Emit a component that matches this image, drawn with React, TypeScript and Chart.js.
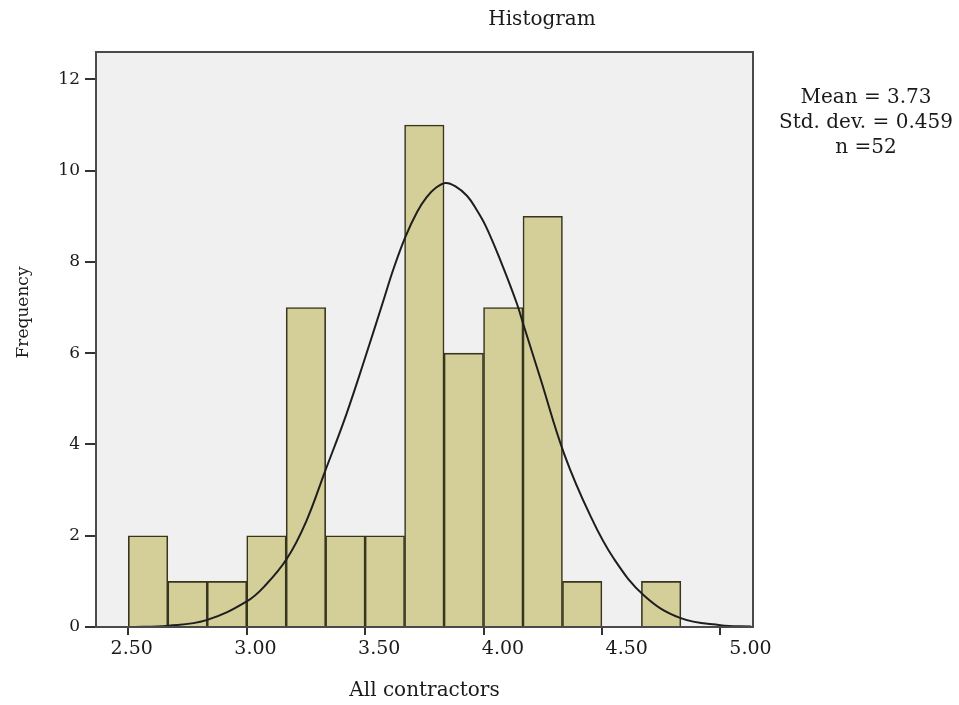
import React, { useEffect, useRef } from "react";
import { Chart, registerables } from "chart.js";

Chart.register(...registerables);

// Histogram bins (edges of each bar) and frequencies
const binEdges = [2.5, 2.6667, 2.8333, 3.0, 3.1667, 3.3333, 3.5, 3.6667, 3.8333, 4.0, 4.1667, 4.3333, 4.5, 4.6667, 4.8333];
const counts = [2, 1, 1, 2, 7, 2, 2, 11, 6, 7, 9, 1, 0, 1];

// Normal curve
const curveX = [2.5, 2.67, 2.83, 3.0, 3.08, 3.17, 3.25, 3.33, 3.42, 3.5, 3.58, 3.62, 3.67, 3.72, 3.76, 3.8, 3.84, 3.88, 3.93, 3.97, 4.01, 4.07, 4.14, 4.17, 4.24, 4.34, 4.45, 4.55, 4.68, 4.83, 5.0, 5.13];
const curveY = [0.0, 0.03, 0.15, 0.56, 0.92, 1.5, 2.3, 3.4, 4.65, 5.9, 7.2, 7.85, 8.55, 9.1, 9.42, 9.63, 9.73, 9.66, 9.45, 9.15, 8.78, 8.05, 7.1, 6.6, 5.45, 3.8, 2.45, 1.5, 0.68, 0.2, 0.04, 0.01];

// Ticks
const xTicks = [2.5, 3.0, 3.5, 4.0, 4.5, 5.0];
const yTicks = [0, 2, 4, 6, 8, 10, 12];

const titleText = "Histogram";
const xTitle = "All contractors";
const yTitle = "Frequency";
const statsLines = ["Mean = 3.73", "Std. dev. = 0.459", "n =52"];

const FONT = "'DejaVu Serif', serif";
const TEXT = "#1a1a1a";

export default function App() {
  const ref = useRef<HTMLCanvasElement>(null);

  useEffect(() => {
    const canvas = ref.current;
    if (!canvas) return;

    const centers = counts.map((_, i) => {
      const start = binEdges[i];
      const end = i + 1 < binEdges.length ? binEdges[i + 1] : binEdges[i] + (binEdges[i] - binEdges[i - 1]);
      return (start + end) / 2;
    });

    const decor = {
      id: "decor",
      beforeDraw(chart: any) {
        const { ctx, chartArea: a } = chart;
        ctx.save();
        ctx.fillStyle = "#f0f0f0";
        ctx.fillRect(a.left, a.top, a.right - a.left, a.bottom - a.top);
        ctx.restore();
      },
      afterDatasetsDraw(chart: any) {
        const { ctx, chartArea: a } = chart;
        ctx.save();
        ctx.strokeStyle = "#4a4a4a";
        ctx.lineWidth = 2;
        ctx.strokeRect(a.left, a.top, a.right - a.left, a.bottom - a.top);
        ctx.restore();
      },
      afterDraw(chart: any) {
        const { ctx, chartArea: a } = chart;
        ctx.save();
        ctx.fillStyle = TEXT;
        ctx.textAlign = "center";
        ctx.textBaseline = "alphabetic";
        ctx.font = `20px ${FONT}`;
        ctx.fillText(titleText, a.right - 211, 25);
        statsLines.forEach((line, i) => {
          ctx.fillText(line, a.right + 113, a.top + 51 + i * 25);
        });
        ctx.restore();
      },
    };

    const chart = new Chart(canvas, {
      type: "bar",
      data: {
        datasets: [
          {
            type: "line",
            data: curveX.map((x, i) => ({ x, y: curveY[i] })),
            borderColor: "#1e1e1e",
            borderWidth: 2,
            pointRadius: 0,
            tension: 0.4,
            fill: false,
            order: 0,
            xAxisID: "x",
            yAxisID: "y",
          } as any,
          {
            type: "bar",
            data: centers.map((x, i) => ({ x, y: counts[i] })),
            backgroundColor: "#d4cf98",
            borderColor: "#38351f",
            borderWidth: 1.6,
            barPercentage: 1,
            categoryPercentage: 1,
            order: 1,
            xAxisID: "x",
            yAxisID: "y",
          } as any,
        ],
      },
      options: {
        animation: false,
        responsive: false,
        events: [],
        layout: { padding: { top: 52, right: 206, left: 0, bottom: 0 } },
        plugins: {
          legend: { display: false },
          tooltip: { enabled: false },
          title: { display: false },
        },
        scales: {
          x: {
            type: "linear",
            position: "bottom",
            offset: false,
            min: 2.3635,
            max: 5.138,
            weight: 0,
            afterBuildTicks: (s: any) => {
              s.ticks = xTicks.map((v) => ({ value: v }));
            },
            afterFit: (s: any) => {
              s.height = 8;
            },
            ticks: { display: false },
            grid: { display: true, offset: false, drawOnChartArea: false, drawTicks: true, tickLength: 8, color: "#333", lineWidth: 2 },
            border: { display: false },
          },
          xl: {
            type: "linear",
            axis: "x",
            position: "bottom",
            offset: false,
            min: 2.3557,
            max: 5.0101,
            weight: 1,
            afterBuildTicks: (s: any) => {
              s.ticks = xTicks.map((v) => ({ value: v }));
            },
            afterFit: (s: any) => {
              s.height = 70;
            },
            ticks: {
              font: { family: FONT, size: 19 },
              color: TEXT,
              padding: 3,
              maxRotation: 0,
              autoSkip: false,
              callback: (v: any) => Number(v).toFixed(2),
            },
            grid: { display: false, offset: false, drawTicks: false },
            border: { display: false },
            title: {
              display: true,
              text: xTitle,
              font: { family: FONT, size: 20 },
              color: TEXT,
              padding: { top: 0, bottom: 2 },
            },
          },
          y: {
            type: "linear",
            position: "left",
            min: 0,
            max: 12.6,
            afterBuildTicks: (s: any) => {
              s.ticks = yTicks.map((v) => ({ value: v }));
            },
            afterFit: (s: any) => {
              s.width = 96;
            },
            ticks: {
              font: { family: FONT, size: 17 },
              color: TEXT,
              padding: 5,
              callback: (v: any) => String(v),
            },
            grid: { display: true, drawOnChartArea: false, drawTicks: true, tickLength: 11, color: "#333", lineWidth: 2 },
            border: { display: false },
            title: {
              display: true,
              text: "          " + yTitle,
              font: { family: FONT, size: 17 },
              color: TEXT,
              padding: { top: 13, bottom: 0 },
            },
          },
        },
      } as any,
      plugins: [decor],
    });

    return () => chart.destroy();
  }, []);

  return (
    <div style={{ position: "fixed", left: 0, top: 0 }}>
      <canvas ref={ref} width={959} height={705} style={{ display: "block" }} />
    </div>
  );
}
